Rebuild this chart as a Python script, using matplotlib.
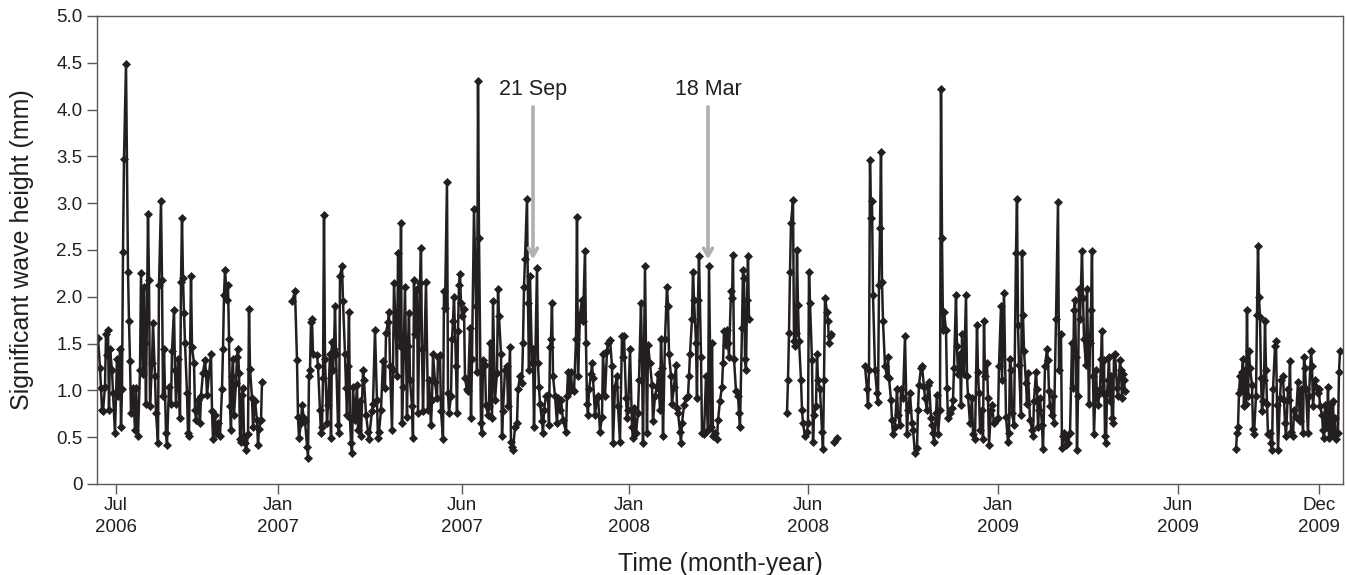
import numpy as np
import matplotlib
matplotlib.use("Agg")
import matplotlib.pyplot as plt

plt.rcParams['font.family'] = ['Liberation Sans', 'DejaVu Sans']

# ---- data: day index (days from start of record) and significant wave height ----
segA_day = [1,3,4,5,6,8,9,10,11,12,13,15,16,18,20,21,23,24,25,26,27,29,31,32,33,34,36,38,39,41,43,44,46,47,48,49,51,52,53,55,56,58,59,61,62,64,65,66,67,69,70,72,74,75,77,78,79,81,83,84,85,86,87,88,90,91,92,94,95,97,98,99,101,103,104,106,
            108,109,110,114,115,116,118,119,121,123,125,126,127,128,130,131,132,133,134,135,136,137,139,140,141,142,143,144,145,146,147,148,149,151,152,153,155,156,158,160,161,162,164,165]
segA_hs = [1.56,1.24,1.03,0.79,0.78,1.04,1.60,1.38,1.65,0.79,1.44,1.22,0.97,0.54,1.34,0.94,1.44,0.61,1.01,2.48,3.47,4.49,2.27,1.74,1.31,0.76,1.03,0.58,1.03,0.51,1.22,2.25,1.17,2.11,1.51,0.86,2.88,2.18,0.83,1.29,1.72,1.15,0.76,0.44,2.13,3.02,2.18,0.94,1.44,0.54,0.42,1.04,0.86,1.42,1.86,1.22,0.86,1.34,0.70,2.16,2.84,2.20,1.83,1.51,0.97,0.54,0.51,2.22,1.46,1.29,0.79,0.68,0.90,0.65,0.94,1.19,
           1.32,1.19,0.95,1.39,0.78,0.48,0.74,0.54,0.65,0.51,1.01,1.44,2.02,2.29,1.97,2.13,1.55,0.83,0.58,1.15,1.34,0.74,1.08,1.36,1.44,1.19,0.48,0.45,0.95,1.03,0.51,0.44,0.36,0.53,1.87,1.23,0.92,0.61,0.89,0.68,0.42,0.59,0.68,1.09]

segB_day = [195,198,200,201,202,204,205,207,208,210,211,212,213,214,215,216,
            220,221,223,224,225,226,227,228,230,231,233,234,235,236,237,238,239,241,242,243,245,246,248,249,250,251,252,253,254,255,256,258,260,261,263,264,266,267,269,271,272,275,276,278,280,281,282,284,286,288,289,291,292,293,295,296,297,299,300,301,303,304,305,306,308,310,311,312,313,315,316,317,318,320,321,323,324,325,326,329,
            331,332,334,335,336,338,340,341,343,344,346,347,348,350,351,352,354,355,356,357,359,360,361,362,363,364,365,367,368,370,371,373,374,375,377,379,380,381,382,384,385,386,388,389,391,392,393,395,396,398,400,401,402,404,405,406,408,410,411,413,414,415,416,418,420,421,423,425,426,427,428,430,431,432,433,435,436,437,440,
            441,442,443,445,446,447,449,451,452,453,454,455,456,458,460,461,463,464,466,469,470,471,473,474,475,477,479,480,481,483,485,486,488,489,490,491,492,494,495,496,498,500,501,503,505,506,508,510,511,513,515,516,518,520,521,523,525,526,527,529,530,531,533,535,536,537,539,541,542,544,545,546,548,
            550,551,553,555,556,558,560,561,563,564,565,566,568,570,571,572,574,575,577,579,580,581,583,584,585,587,589,591,592,593,595,596,597,599,600,601,602,604,605,607,609,611,612,614,615,616,618,620,621,623,625,626,627,629,630,631,632,634,635,636,637,639,641,642,643,645,646,647,648,649,650,651,652]
segB_hs = [1.95,2.06,1.32,0.72,0.49,0.65,0.84,0.70,0.67,0.40,0.28,1.15,1.22,1.73,1.76,1.39,
           1.38,1.26,0.79,0.54,0.61,1.13,2.87,1.34,0.65,0.84,1.39,0.49,1.52,1.22,1.44,1.90,1.39,0.63,0.54,2.22,2.33,1.95,1.39,1.03,0.74,1.26,1.84,0.70,0.44,0.33,1.04,0.68,1.06,0.58,0.89,0.51,1.22,1.11,0.74,0.56,0.48,0.78,0.86,1.65,0.90,0.49,0.56,0.79,1.31,1.03,1.61,1.73,1.84,1.26,0.58,1.22,2.15,1.60,1.15,2.47,1.47,2.79,0.65,1.04,2.10,0.72,1.47,1.83,1.11,0.83,0.49,2.18,1.60,2.08,0.76,2.15,2.52,1.44,0.78,2.16,
           0.79,1.11,0.63,0.90,1.39,1.09,0.92,1.36,1.38,0.78,0.48,2.06,1.88,3.23,0.97,0.76,0.94,1.55,1.74,2.00,1.26,0.76,1.63,2.13,2.24,1.93,1.79,1.87,1.13,1.01,0.99,1.67,0.70,1.34,2.94,1.90,1.20,4.31,2.63,0.65,0.54,1.32,1.27,0.84,0.74,0.83,1.51,0.70,1.95,0.90,1.19,2.08,1.79,1.39,0.51,0.78,1.22,1.26,0.83,1.46,0.45,0.40,0.36,0.61,0.65,1.01,1.15,1.08,1.51,2.11,2.40,3.05,1.93,1.22,2.22,1.29,1.44,0.61,2.31,
           1.29,1.04,0.86,0.67,0.54,0.79,0.94,0.95,0.63,1.46,1.55,1.93,1.15,0.94,0.65,0.92,0.79,0.90,0.68,0.56,0.94,1.20,0.99,1.20,1.01,0.99,1.55,2.85,1.15,1.81,1.97,1.74,2.49,1.51,0.86,0.74,1.01,1.17,1.29,1.13,0.74,0.92,0.94,0.56,0.72,1.39,0.94,1.42,1.51,1.54,1.26,0.44,1.04,1.15,0.83,0.45,1.58,1.36,1.58,0.92,0.70,0.79,1.44,0.61,0.49,0.81,0.54,0.76,1.11,1.93,1.32,0.44,2.33,
           0.54,1.49,1.29,1.06,0.67,0.94,1.04,1.17,0.79,1.55,1.24,0.51,1.55,2.11,1.90,1.39,1.15,0.86,1.04,1.27,0.81,0.76,0.56,0.44,0.65,0.84,0.92,0.94,1.15,1.39,1.76,2.27,1.97,1.51,0.92,1.97,2.44,1.36,0.54,0.53,1.15,0.58,2.33,0.61,1.51,0.51,0.54,0.48,0.68,0.89,1.04,1.29,1.63,1.49,1.65,1.51,1.36,2.06,1.99,2.45,1.34,0.99,0.94,0.76,0.61,1.67,2.29,2.20,1.34,1.22,1.97,2.44,1.76]

segC_day = [690,691,692,693,694,696,697,698,699,700,701,702,704,705,706,708,710,711,712,713,715,716,717,719,720,721,723,725,726,727,728,730,731,732,733,734]
segC_hs = [0.76,1.11,1.61,2.27,2.79,3.03,1.53,1.47,1.61,2.50,1.91,1.53,1.11,0.79,0.65,0.51,0.56,0.65,2.27,1.93,1.32,0.45,0.74,0.83,1.39,1.11,1.01,0.56,0.37,1.11,1.99,1.84,1.74,1.51,1.58,1.60]

segD_day = [737, 740]
segD_hs = [0.45, 0.49]

segE_day = [768,770,771,772,773,774,775,776,778,780,781,782,783,784,785,786,788,790,791,792,794,795,796,798,800,801,803,804,806,808,810,811,813,815,816,818,820,821,822,824,825,827,828,830,831,832,834,835,836,837,839,840,841,843,844,845,846,847,849,850,851,853,855,856,857,859,860,861,863,864,865,867,869,870,871,873,875,876,878,880,
            881,882,883,885,886,887,888,890,891,892,894,895,897,899,901,902,904,905,907,909,911,912,913,914,915,917,919,920,921,922,924,925,926,927,929,930,931,933,935,936,937,939,940,941,942,943,945,946,948,950,951,952,953,955,956,957,959,961,962,964,965,966,967,969,970,971,973,975,976,977,978,979,980,981,982,983,985,986,987,989,990,
            992,993,994,995,996,997,999,1000,1001,1003,1004,1005,1006,1007,1008,1009,1010,1011,1012,1013,1014,1015,1016,1017,1018,1020,1021,1023,1024,1025,1026,1027,1028]
segE_hs = [1.26,1.01,0.84,1.22,3.46,2.84,3.02,2.02,1.22,0.97,0.88,2.13,2.74,3.55,2.16,1.74,1.26,1.15,1.36,1.13,0.90,0.68,0.53,0.61,1.01,0.74,0.63,1.01,0.92,1.58,0.53,0.79,0.97,0.65,0.58,0.33,0.38,0.79,1.06,1.24,1.26,1.04,0.92,0.79,1.06,1.09,0.70,0.63,0.54,0.45,0.76,0.95,0.53,0.79,4.22,2.63,1.65,1.84,1.65,1.03,0.70,0.76,0.81,0.90,1.24,2.02,1.47,1.17,1.39,0.84,1.60,1.17,2.02,1.15,0.94,0.65,0.92,0.53,0.48,1.70,
           1.20,0.97,0.58,0.79,0.48,1.74,1.15,1.29,0.92,0.42,0.79,0.84,0.65,0.68,0.70,1.26,1.90,1.11,2.04,0.72,0.45,0.54,1.34,1.22,0.76,0.63,2.47,3.05,1.70,1.27,0.74,2.47,1.81,1.42,1.08,0.86,1.19,0.68,0.58,0.51,0.89,1.20,1.01,0.61,0.79,0.92,0.63,0.37,1.26,1.44,1.32,0.99,0.83,0.74,0.94,0.65,1.76,3.01,1.22,1.60,0.38,0.51,0.54,0.42,0.51,0.44,0.54,1.51,1.03,1.86,1.97,1.36,0.36,0.94,2.08,1.76,2.49,1.99,1.55,1.27,2.08,
           0.86,1.51,1.86,2.49,1.15,0.53,1.22,0.94,0.84,1.01,1.34,1.63,0.97,1.32,0.51,0.44,0.97,1.11,1.36,0.89,1.15,0.70,0.65,1.38,1.39,1.03,0.94,1.32,1.22,0.92,1.17,1.11,0.99]

segF_day = [1139,1140,1141,1142,1143,1144,1145,1146,1147,1148,1149,1150,1151,1152,1153,1155,1156,1157,1159,1160,1161,1162,1163,1164,1165,1166,1167,1168,1169,1170,1171,1173,1174,1175,1176,1178,1179,1180,1181,1183,1184,1186,1187,1188,1189,1191,1192,1193,1194,1196,1197,1199,1201,1203,1204,1206,1207,1208,1209,1211,1212,1214,1215,1216,1218,1219,1221,1222,1223,1225,1226,1227,1228,1230,1231,1232,1234,1235,1236,1237,1238,1239,1241,1242,1243]
segF_hs = [0.37,0.54,0.61,0.97,1.15,1.01,1.20,1.34,0.83,1.22,0.86,1.86,0.94,1.42,1.24,1.06,0.59,0.53,0.94,1.81,2.54,2.00,1.78,1.13,0.78,0.89,1.11,1.74,1.22,0.86,0.53,0.54,0.44,0.36,1.01,1.47,1.53,0.84,0.36,0.92,1.11,1.15,0.90,0.65,0.51,1.01,0.90,1.31,0.56,0.51,0.79,0.72,1.09,0.67,1.01,0.54,1.36,1.24,1.01,0.54,0.94,1.42,1.26,0.83,1.11,1.04,0.97,1.01,0.83,0.74,0.58,0.49,0.84,0.61,1.04,0.49,0.86,0.54,0.89,0.51,0.70,0.48,0.54,1.20,1.42]

segments = [(segA_day, segA_hs), (segB_day, segB_hs), (segC_day, segC_hs),
            (segD_day, segD_hs), (segE_day, segE_hs), (segF_day, segF_hs)]

tick_days = [19, 181, 365, 532, 711, 901, 1081, 1222]
tick_labels = ["Jul\n2006", "Jan\n2007", "Jun\n2007", "Jan\n2008", "Jun\n2008", "Jan\n2009", "Jun\n2009", "Dec\n2009"]
yticks = [0, 0.5, 1.0, 1.5, 2.0, 2.5, 3.0, 3.5, 4.0, 4.5, 5.0]
ytick_labels = ["0", "0.5", "1.0", "1.5", "2.0", "2.5", "3.0", "3.5", "4.0", "4.5", "5.0"]

event_days = [436, 611]
event_labels = ["21 Sep", "18 Mar"]

# ---- figure ----
ink = '#231f20'
W, H = 1346, 575
fig = plt.figure(figsize=(W/100, H/100), dpi=100)
ax = fig.add_axes([97/W, 1-484/H, (1343-97)/W, (484-16)/H])

for d, h in segments:
    ax.plot(d, h, color=ink, lw=1.8, marker='D', ms=4.5, mfc=ink, mec=ink, mew=0.5)

ax.set_xlim(0, 1246)
ax.set_ylim(0, 5.0)
ax.set_xticks(tick_days)
ax.set_xticklabels(tick_labels, fontsize=13.5, color=ink, linespacing=1.4)
ax.set_yticks(yticks)
ax.set_yticklabels(ytick_labels, fontsize=13.5, color=ink)
ax.tick_params(axis='both', direction='out', length=7.5, width=1.0, color='#58595b', pad=3)
ax.tick_params(axis='x', pad=2)
for s in ax.spines.values():
    s.set_color('#58595b')
    s.set_linewidth(1.0)

ax.set_xlabel("Time (month-year)", fontsize=18, color=ink, labelpad=11)
ax.set_ylabel("Significant wave height (mm)", fontsize=18, color=ink, labelpad=16)

for d, lab in zip(event_days, event_labels):
    ax.annotate("", xy=(d, 2.40), xytext=(d, 4.03),
                arrowprops=dict(arrowstyle='->,head_length=0.55,head_width=0.32',
                                color='#b0b0b0', lw=2.6, shrinkA=0, shrinkB=0))
    ax.text(d, 4.22, lab, fontsize=15.5, color=ink, ha='center', va='center')

fig.savefig("out.png", dpi=100)
